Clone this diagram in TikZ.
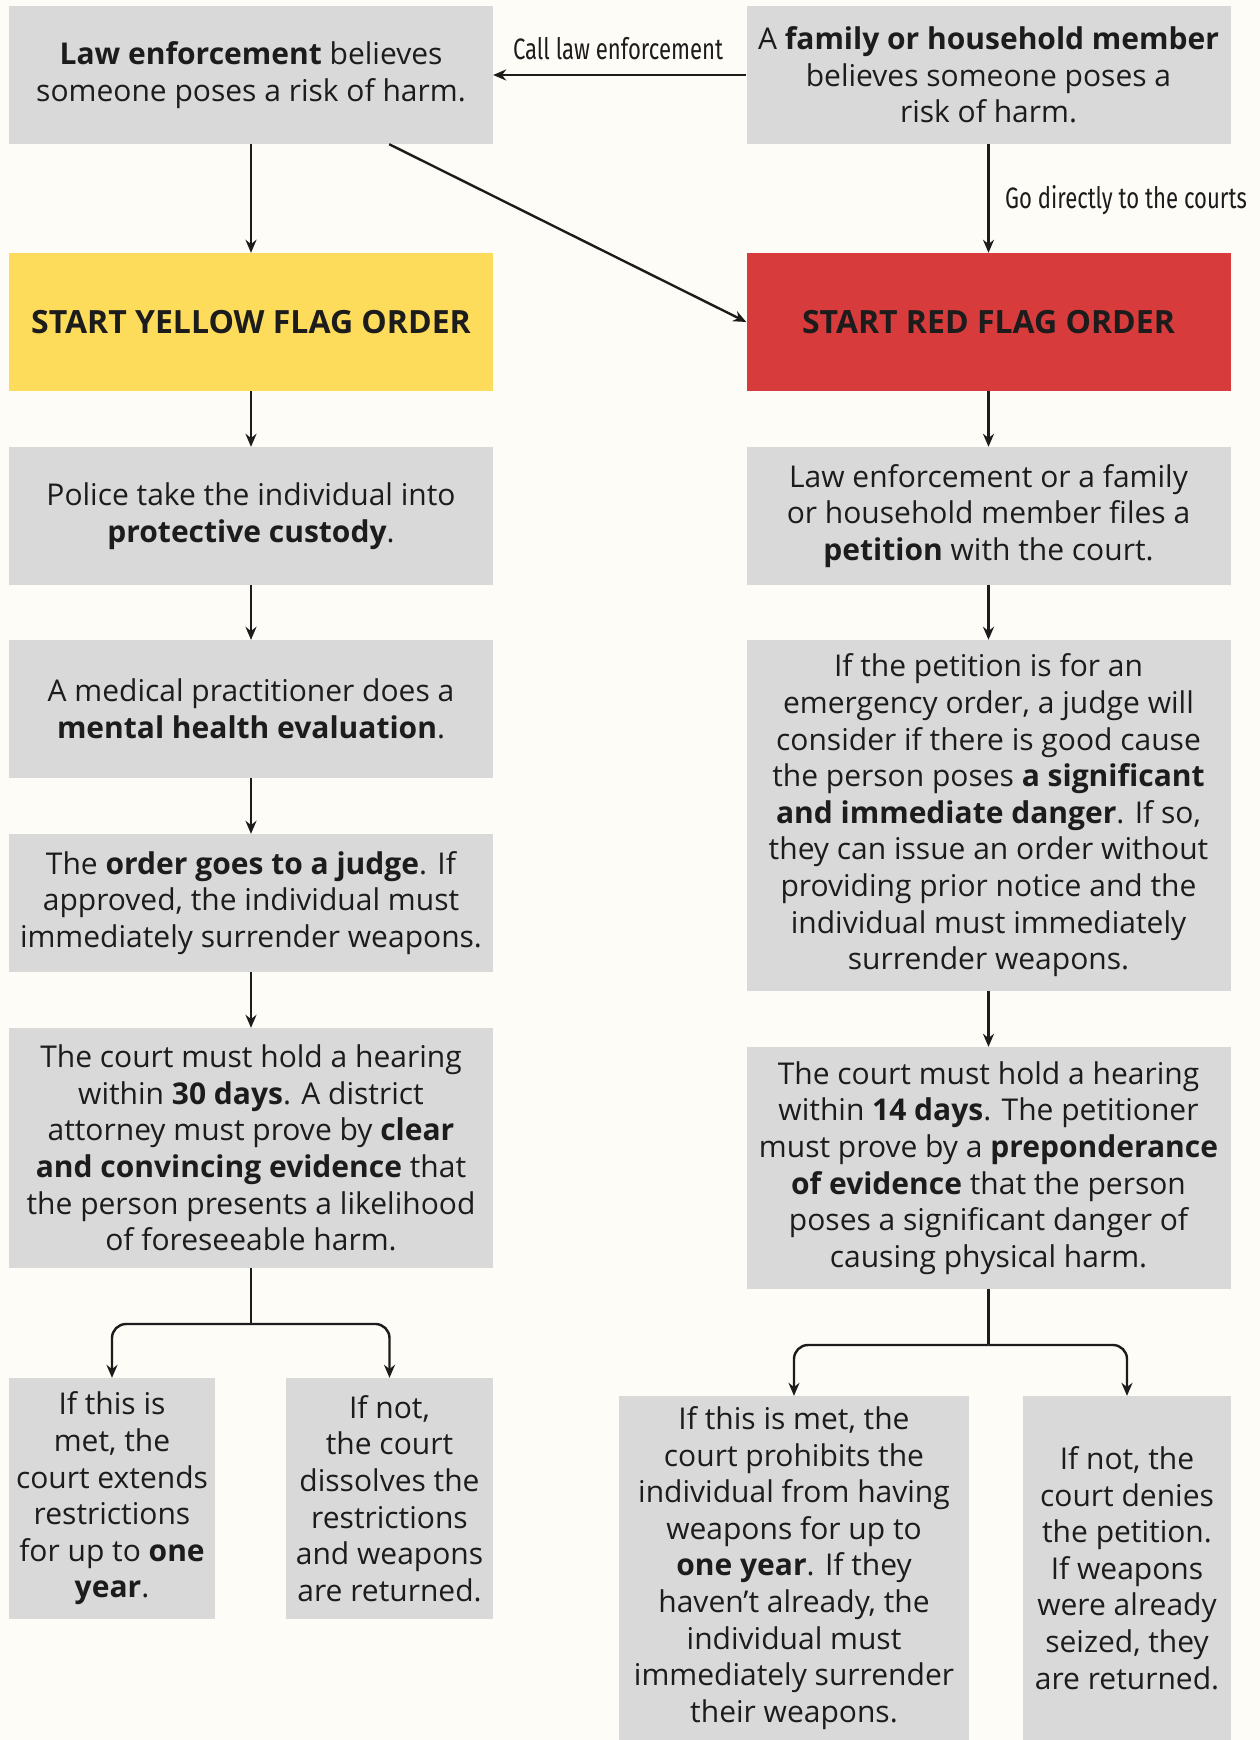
\documentclass[tikz,border=0pt]{standalone}
\usepackage{fontspec}
\setmainfont{Open Sans}
\newfontfamily\condfont[FakeStretch=0.75]{Fira Sans}
\usepackage{tikz}
\usetikzlibrary{arrows.meta, positioning}
\definecolor{bgcream}{HTML}{FDFCF6}
\definecolor{boxgray}{HTML}{D9D9D9}
\definecolor{flagyellow}{HTML}{FDDC5C}
\definecolor{flagred}{HTML}{D83B3B}
\definecolor{ink}{HTML}{1C1C1C}

\begin{document}
\begin{tikzpicture}[
  x=1pt, y=-1pt,
  box/.style={fill=boxgray, text=ink, align=center, inner sep=0pt, minimum width=484pt, minimum height=138pt, font=\fontsize{30}{36.6}\selectfont},
  flag/.style={box, font=\fontsize{32}{38}\selectfont\bfseries},
  leaf/.style={box, minimum width=207pt},
  cond/.style={text=ink, inner sep=0pt, font=\condfont\fontsize{29.5}{34}\selectfont},
  link/.style={draw=ink, line width=2.4pt},
  arr/.style={link, -{Stealth[length=13pt, width=11pt]}}
]
\fill[bgcream] (0,0) rectangle (1260,1740);
\useasboundingbox (0,0) rectangle (1260,1740);

\node[box] (lawbox) at (251,75) {\textbf{Law enforcement} believes\\someone poses a risk of harm.};
\node[box] (family) at (988.5,75) {A \textbf{family or household member}\\believes someone poses a\\risk of harm.};
\node[flag, fill=flagyellow] (yellow) at (251,322) {START YELLOW FLAG ORDER};
\node[flag, fill=flagred] (red) at (988.5,322) {START RED FLAG ORDER};

\node[box] (custody) at (251,516) {Police take the individual into\\\textbf{protective custody}.};
\node[box] (medical) at (251,709) {A medical practitioner does a\\\textbf{mental health evaluation}.};
\node[box] (judge) at (251,903) {The \textbf{order goes to a judge}. If\\approved, the individual must\\immediately surrender weapons.};
\node[box, minimum height=240pt] (hear30) at (251,1148) {The court must hold a hearing\\within \textbf{30 days}. A district\\attorney must prove by \textbf{clear}\\\textbf{and convincing evidence} that\\the person presents a likelihood\\of foreseeable harm.};
\node[leaf, minimum width=206pt, minimum height=241pt] (extend) at (112,1498.5) {If this is\\met, the\\court extends\\restrictions\\for up to \textbf{one}\\\textbf{year}.};
\node[leaf, minimum height=241pt] (dissolve) at (389.5,1498.5) {If not,\\the court\\dissolves the\\restrictions\\and weapons\\are returned.};

\node[box] (petition) at (988.5,516) {Law enforcement or a family\\or household member files a\\\textbf{petition} with the court.};
\node[box, minimum height=351pt] (emerg) at (988.5,815.5) {If the petition is for an\\emergency order, a judge will\\consider if there is good cause\\the person poses \textbf{a significant}\\\textbf{and immediate danger}. If so,\\they can issue an order without\\providing prior notice and the\\individual must immediately\\surrender weapons.};
\node[box, minimum height=242pt] (hear14) at (988.5,1168) {The court must hold a hearing\\within \textbf{14 days}. The petitioner\\must prove by a \textbf{preponderance}\\\textbf{of evidence} that the person\\poses a significant danger of\\causing physical harm.};
\node[leaf, minimum width=350pt, minimum height=344pt] (prohibit) at (794,1568) {If this is met, the\\court prohibits the\\individual from having\\weapons for up to\\\textbf{one year}. If they\\haven’t already, the\\individual must\\immediately surrender\\their weapons.};
\node[leaf, minimum width=208pt, minimum height=344pt] (deny) at (1127,1568) {If not, the\\court denies\\the petition.\\If weapons\\were already\\seized, they\\are returned.};

\node[cond] (calllbl) at (618,49) {Call law enforcement};
\node[cond, anchor=west] (courtlbl) at (1005,200) {Go directly to the courts};

\draw[arr] (family.west) -- (lawbox.east);
\draw[arr] (family.south) -- (red.north);
\draw[arr] (lawbox.south) -- (yellow.north);
\draw[arr] ([xshift=-104pt]lawbox.south east) -- (red.west);

\draw[arr] (yellow.south) -- (custody.north);
\draw[arr] (custody.south) -- (medical.north);
\draw[arr] (medical.south) -- (judge.north);
\draw[arr] (judge.south) -- (hear30.north);
\coordinate (lsplit) at (251,1324);
\draw[link] (hear30.south) -- (lsplit);
\draw[arr, rounded corners=14pt] (lsplit) -| (extend.north);
\draw[arr, rounded corners=14pt] (lsplit) -| (dissolve.north);

\draw[arr] (red.south) -- (petition.north);
\draw[arr] (petition.south) -- (emerg.north);
\draw[arr] (emerg.south) -- (hear14.north);
\coordinate (rsplit) at (988.5,1345);
\draw[link] (hear14.south) -- (rsplit);
\draw[arr, rounded corners=14pt] (rsplit) -| (prohibit.north);
\draw[arr, rounded corners=14pt] (rsplit) -| (deny.north);
\end{tikzpicture}
\end{document}
